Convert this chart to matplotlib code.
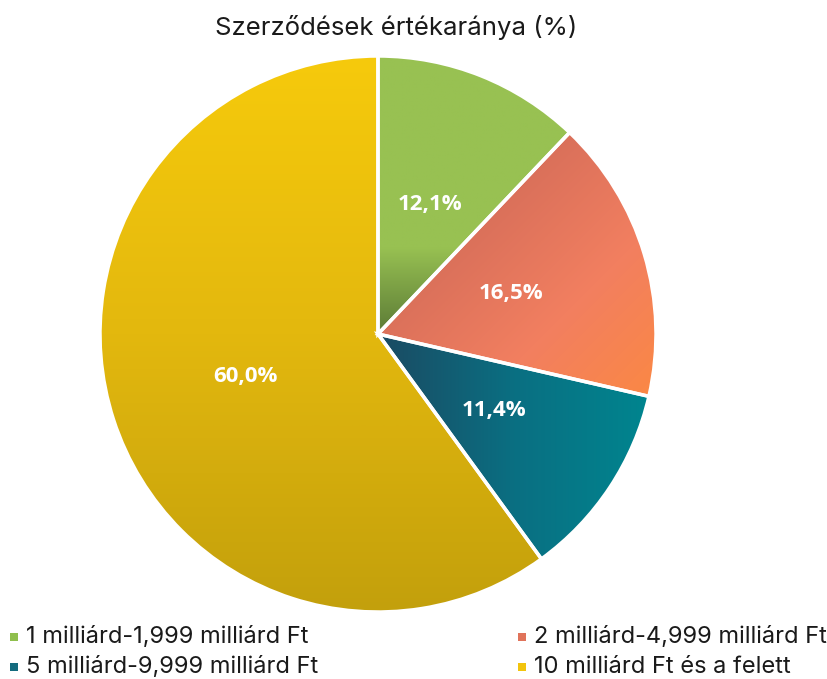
import numpy as np
import matplotlib
matplotlib.use("Agg")
import matplotlib.pyplot as plt
from matplotlib.colors import LinearSegmentedColormap
from matplotlib.patches import Rectangle

title = "Szerződések értékaránya (%)"
categories = ["1 milliárd-1,999 milliárd Ft", "2 milliárd-4,999 milliárd Ft",
              "5 milliárd-9,999 milliárd Ft", "10 milliárd Ft és a felett"]
values = [12.1, 16.5, 11.4, 60.0]
labels = ["12,1%", "16,5%", "11,4%", "60,0%"]

legend_colors = ["#8fbf4d", "#e0735a", "#136b7e", "#f2c40d"]
grads = [
    (["#98c152", "#98c152", "#5b7a36"], [0.0, 0.05, 1.0], "green"),
    (["#d06a58", "#f27f60", "#ff8c38"], [0.0, 0.5, 1.0], "diag"),
    (["#1b4a62", "#0a6f82", "#00858f"], [0.0, 0.5, 1.0], "h"),
    (["#f6ca0c", "#e3b80e", "#c3a00c"], [0.0, 0.5, 1.0], "v"),
]

fig = plt.figure(figsize=(8.28, 6.79), dpi=100)
W, H = 828, 679
cx, cy, r = 378, 334, 278
ax = fig.add_axes([(cx - r) / W, (H - cy - r) / H, 2 * r / W, 2 * r / H])

wedges, texts = ax.pie(values, startangle=90, counterclock=False, radius=1,
                       labels=labels, labeldistance=0.5,
                       wedgeprops=dict(edgecolor="white", linewidth=2.5),
                       textprops=dict(color="white", fontsize=16, fontweight="bold",
                                      family="Open Sans", ha="center", va="center"))
ax.set_xlim(-1, 1)
ax.set_ylim(-1, 1)
ax.set_aspect("equal")
ax.axis("off")

n = 400
xs = np.linspace(-1, 1, n)
ys = np.linspace(1, -1, n)
X, Y = np.meshgrid(xs, ys)
for w, (cols, stops, mode) in zip(wedges, grads):
    cmap = LinearSegmentedColormap.from_list("g", list(zip(stops, cols)))
    if mode == "green":
        Z = np.clip((0.33 - Y) / 0.33, 0, 1)
    elif mode == "diag":
        Z = np.clip(((X - 0.0) + (0.3 - Y)) / 1.8, 0, 1)
    elif mode == "h":
        Z = np.clip((X - 0.0) / 0.98, 0, 1)
    else:
        Z = np.clip((1 - Y) / 2, 0, 1)
    im = ax.imshow(Z, cmap=cmap, vmin=0, vmax=1, extent=(-1, 1, -1, 1),
                   origin="upper", zorder=w.get_zorder() - 0.1, interpolation="bilinear")
    im.set_clip_path(w)
    w.set_facecolor("none")
    w.set_zorder(w.get_zorder() + 1)
for t in texts:
    t.set_zorder(10)
ax.set_xlim(-1, 1)
ax.set_ylim(-1, 1)

fig.text(396 / W, 1 - 28 / H, title, ha="center", va="center", fontsize=18.5,
         family="Inter", color="#1a1a1a")

leg_pos = [(14, 637), (522, 637), (14, 667), (522, 667)]
for (lx, ly), cat, col in zip(leg_pos, categories, legend_colors):
    fig.patches.append(Rectangle(((lx - 4) / W, 1 - (ly + 4) / H), 8 / W, 8 / H,
                                 transform=fig.transFigure, facecolor=col, edgecolor="none"))
    fig.text((lx + 12) / W, 1 - ly / H, cat, ha="left", va="center", fontsize=17,
             family="Inter", color="#1a1a1a")

fig.savefig("out.png", dpi=100)
